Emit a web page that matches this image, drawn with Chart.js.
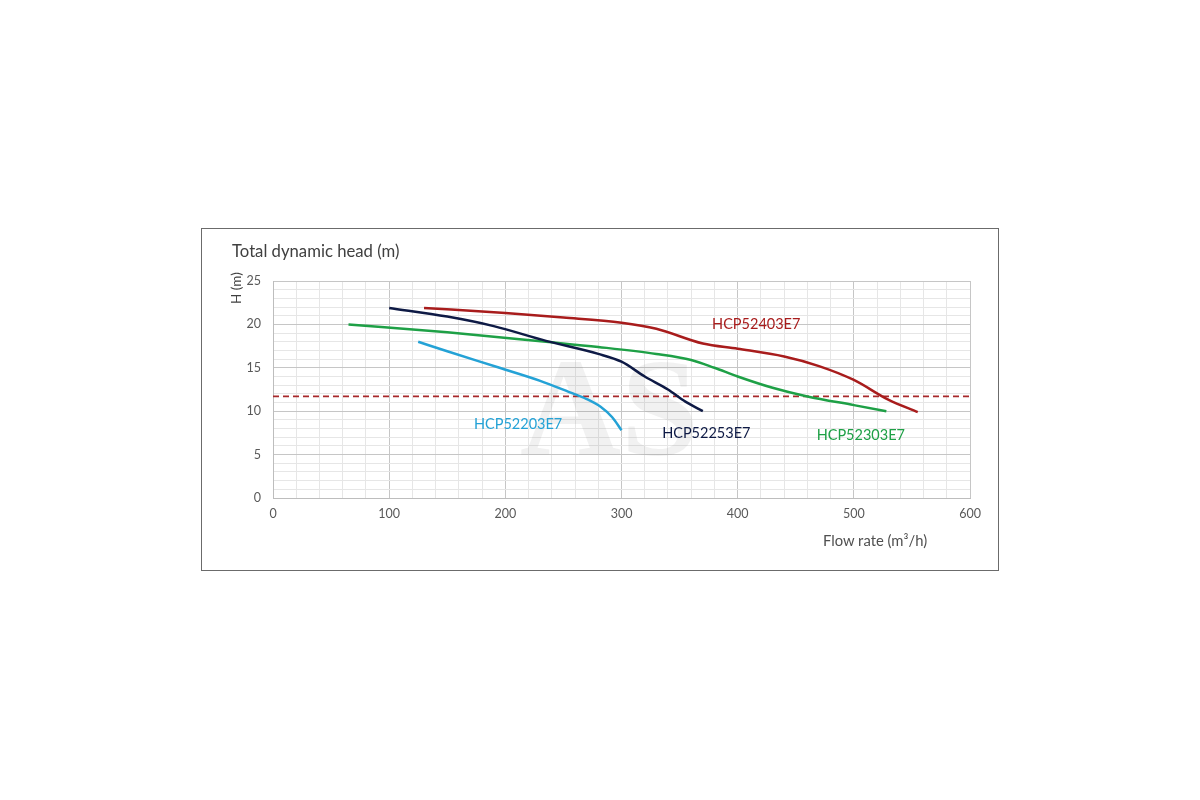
<!DOCTYPE html>
<html>
<head>
<meta charset="utf-8">
<script src="https://cdn.jsdelivr.net/npm/chart.js@4"></script>
<style>
  html, body { margin: 0; padding: 0; background: #fff; }
  body { width: 1200px; height: 800px; position: relative; overflow: hidden; font-family: Lato, "Noto Sans", sans-serif; }
  #frame { position: absolute; left: 201px; top: 228px; width: 796px; height: 341px; border: 1px solid #6b6b6b; }
  #wrap { position: absolute; left: 0; top: 0; width: 1200px; height: 800px; }
  .t { position: absolute; color: #404040; white-space: nowrap; }
</style>
</head>
<body>
<div id="frame"></div>
<div id="wrap"><canvas id="c" width="1200" height="800"></canvas></div>
<div class="t" style="left:232px; top:241px; font-size:16.7px;">Total dynamic head (m)</div>
<div class="t" style="left:228px; top:304px; font-size:13.5px; transform: rotate(-90deg); transform-origin: 0 0;">H (m)</div>
<div class="t" style="left:823px; top:531px; font-size:14.8px; color:#505050;">Flow rate (m³/h)</div>
<script>
// ---- data ----
const xTicks = [0, 100, 200, 300, 400, 500, 600];
const yTicks = [0, 5, 10, 15, 20, 25];
const seriesNames = ['HCP52403E7', 'HCP52253E7', 'HCP52303E7', 'HCP52203E7'];

const flowHCP52403E7 = [130, 200, 250, 300, 330, 370, 400, 440, 470, 500, 530, 555];
const headHCP52403E7 = [21.9, 21.3, 20.8, 20.2, 19.5, 17.8, 17.2, 16.3, 15.2, 13.6, 11.3, 9.9];

const flowHCP52253E7 = [100, 150, 190, 235, 280, 300, 320, 340, 355, 370];
const headHCP52253E7 = [21.9, 20.9, 19.8, 18.1, 16.6, 15.7, 14.0, 12.5, 11.1, 10.0];

const flowHCP52303E7 = [65, 150, 235, 280, 330, 360, 380, 400, 430, 460, 500, 528];
const headHCP52303E7 = [20.0, 19.1, 18.0, 17.4, 16.6, 15.9, 15.0, 14.0, 12.7, 11.7, 10.7, 10.0];

const flowHCP52203E7 = [125, 150, 195, 230, 255, 270, 282, 292, 300];
const headHCP52203E7 = [18.0, 16.9, 15.0, 13.5, 12.2, 11.4, 10.5, 9.3, 7.8];

const referenceHead = 11.7;
const flowRange = [0, 600];

// ---- styling ----
const colors = {
  HCP52403E7: '#a81c1c',
  HCP52253E7: '#0e1a45',
  HCP52303E7: '#1ea046',
  HCP52203E7: '#24a2d6'
};
// label anchors (data units)
const labelAnchors = {
  HCP52403E7: [416, 20.0],
  HCP52253E7: [373, 7.5],
  HCP52303E7: [506, 7.2],
  HCP52203E7: [211, 8.5]
};

function pts(xs, ys) { return xs.map((x, i) => ({ x: x, y: ys[i] })); }

const curves = {
  HCP52403E7: pts(flowHCP52403E7, headHCP52403E7),
  HCP52253E7: pts(flowHCP52253E7, headHCP52253E7),
  HCP52303E7: pts(flowHCP52303E7, headHCP52303E7),
  HCP52203E7: pts(flowHCP52203E7, headHCP52203E7)
};

const datasets = seriesNames.map(n => ({
  label: n,
  data: curves[n],
  borderColor: colors[n],
  borderWidth: 2.5,
  pointRadius: 0,
  tension: 0.4,
  cubicInterpolationMode: 'monotone',
  fill: false
}));
datasets.push({
  label: 'ref',
  data: flowRange.map(x => ({ x: x, y: referenceHead })),
  borderColor: '#a8282a',
  borderWidth: 1.8,
  borderDash: [6, 4],
  pointRadius: 0,
  fill: false
});

const extras = {
  id: 'extras',
  beforeDatasetsDraw(chart) {
    const { ctx, chartArea } = chart;
    ctx.save();
    ctx.beginPath();
    ctx.rect(chartArea.left, chartArea.top, chartArea.right - chartArea.left, chartArea.bottom - chartArea.top);
    ctx.clip();
    ctx.fillStyle = 'rgba(120,120,120,0.10)';
    ctx.font = 'bold 140px "Liberation Serif", serif';
    ctx.textBaseline = 'alphabetic';
    ctx.textAlign = 'left';
    ctx.fillText('AS', 520, 455);
    ctx.restore();
  },
  afterDatasetsDraw(chart) {
    const { ctx, scales } = chart;
    ctx.save();
    ctx.font = '14.5px Lato, "Noto Sans", sans-serif';
    ctx.textAlign = 'center';
    ctx.textBaseline = 'middle';
    seriesNames.forEach(n => {
      const a = labelAnchors[n];
      ctx.fillStyle = colors[n];
      ctx.fillText(n, scales.x.getPixelForValue(a[0]), scales.y.getPixelForValue(a[1]));
    });
    ctx.restore();
  }
};

new Chart(document.getElementById('c'), {
  type: 'line',
  data: { datasets: datasets },
  plugins: [extras],
  options: {
    responsive: false,
    animation: false,
    events: [],
    layout: { padding: { left: 233, right: 230, top: 281, bottom: 272 } },
    plugins: { legend: { display: false }, tooltip: { enabled: false }, title: { display: false } },
    scales: {
      x: {
        type: 'linear',
        min: 0, max: 600,
        afterFit(s) { s.height = 30; },
        afterBuildTicks(s) {
          const t = [];
          for (let v = 0; v <= 600; v += 20) t.push({ value: v });
          s.ticks = t;
        },
        ticks: {
          autoSkip: false, maxRotation: 0, padding: 8,
          color: '#595959',
          font: { family: 'Lato', size: 12.5 },
          callback: v => (xTicks.includes(v) ? String(v) : '')
        },
        grid: {
          drawTicks: false,
          color: c => (c.tick && c.tick.value % 100 === 0 ? '#c6c6c6' : '#e6e6e6'),
          lineWidth: 1
        },
        border: { color: '#bdbdbd' }
      },
      y: {
        type: 'linear',
        min: 0, max: 25,
        afterFit(s) { s.width = 40; },
        afterBuildTicks(s) {
          const t = [];
          for (let v = 0; v <= 25; v += 1) t.push({ value: v });
          s.ticks = t;
        },
        ticks: {
          autoSkip: false, padding: 12,
          color: '#595959',
          font: { family: 'Lato', size: 12.5 },
          callback: v => (yTicks.includes(v) ? String(v) : '')
        },
        grid: {
          drawTicks: false,
          color: c => (c.tick && c.tick.value % 5 === 0 ? '#c6c6c6' : '#e6e6e6'),
          lineWidth: 1
        },
        border: { color: '#bdbdbd' }
      }
    }
  }
});
</script>
</body>
</html>
